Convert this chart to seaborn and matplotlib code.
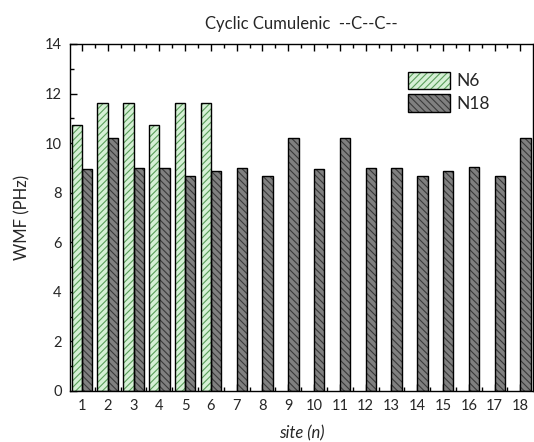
import matplotlib
matplotlib.use("Agg")
import matplotlib.pyplot as plt
from matplotlib.patches import Patch, Rectangle
from matplotlib.ticker import MultipleLocator, FixedLocator
import seaborn as sns
import pandas as pd

# WMF values per site for the two ring sizes
sites = [str(i) for i in range(1, 19)]
n6_values = [10.75, 11.62, 11.62, 10.75, 11.62, 11.62]
n18_values = [8.96, 10.2, 9.0, 9.0, 8.68, 8.86, 9.0, 8.68, 10.2,
              8.96, 10.2, 9.0, 9.0, 8.66, 8.86, 9.02, 8.66, 10.2]
series_names = ["N6", "N18"]

df = pd.DataFrame({
    "site": sites[:len(n6_values)] + sites,
    "wmf": n6_values + n18_values,
    "ring": ["N6"] * len(n6_values) + ["N18"] * len(n18_values),
})

sns.set_style("ticks")
plt.rcParams["font.family"] = ["Lato", "DejaVu Sans"]
plt.rcParams["hatch.linewidth"] = 0.8

face = {"N6": "#d5f0d5", "N18": "#808080"}
hatch_col = {"N6": "#5a9e5a", "N18": "#3a3a3a"}
hatch = {"N6": "/////", "N18": "\\\\\\\\\\"}

fig = plt.figure(figsize=(5.34, 4.42), dpi=100)
ax = fig.add_axes([0.1311, 0.1154, 0.8665, 0.7851])

sns.barplot(data=df, x="site", y="wmf", hue="ring", order=sites,
            hue_order=series_names, palette=face, width=0.8,
            edgecolor="black", linewidth=0, ax=ax, legend=False,
            saturation=1)

# hatch lines take the edge colour, so draw the black outline separately
for container, name in zip(ax.containers, series_names):
    for bar in container:
        bar.set_hatch(hatch[name])
        bar.set_edgecolor(hatch_col[name])
        ax.add_patch(Rectangle(bar.get_xy(), bar.get_width(), bar.get_height(),
                               fill=False, edgecolor="black", linewidth=1.0,
                               zorder=bar.get_zorder() + 0.1))

ax.set_xlim(-0.465, 17.48)
ax.set_ylim(0, 14)
ax.yaxis.set_major_locator(MultipleLocator(2))
ax.yaxis.set_minor_locator(MultipleLocator(1))
ax.xaxis.set_minor_locator(FixedLocator([i + 0.5 for i in range(-1, 18)]))

for s in ax.spines.values():
    s.set_visible(True)
    s.set_linewidth(1.0)
    s.set_color("black")
    s.set_zorder(5)

ax.tick_params(axis="both", which="both", direction="in", top=True,
               right=False, width=1.0, color="black")
ax.tick_params(axis="both", which="major", length=5, labelsize=10.5, pad=6)
ax.tick_params(axis="both", which="minor", length=3)

ax.set_xlabel("site (n)", fontsize=12, style="italic", labelpad=9)
ax.set_ylabel("WMF (PHz)", fontsize=12, labelpad=10)
ax.set_title("Cyclic Cumulenic  --C--C--", fontsize=12, pad=11)

handles = []
for name in series_names:
    handles.append(Patch(facecolor=face[name], edgecolor=hatch_col[name],
                         linewidth=0, hatch=hatch[name], label=name))
leg = ax.legend(handles=handles, loc="upper left", bbox_to_anchor=(0.716, 0.94),
                frameon=False, fontsize=12.5, handlelength=2.4, handleheight=1.15,
                labelspacing=0.3, handletextpad=0.4, borderaxespad=0)
# black outline around each legend swatch
fig.canvas.draw()
for h in leg.get_patches():
    bb = h.get_window_extent().transformed(fig.transFigure.inverted())
    fig.add_artist(Rectangle((bb.x0, bb.y0), bb.width, bb.height, fill=False,
                             edgecolor="black", linewidth=1.0,
                             transform=fig.transFigure, zorder=10))

fig.savefig("out.png", dpi=100)
